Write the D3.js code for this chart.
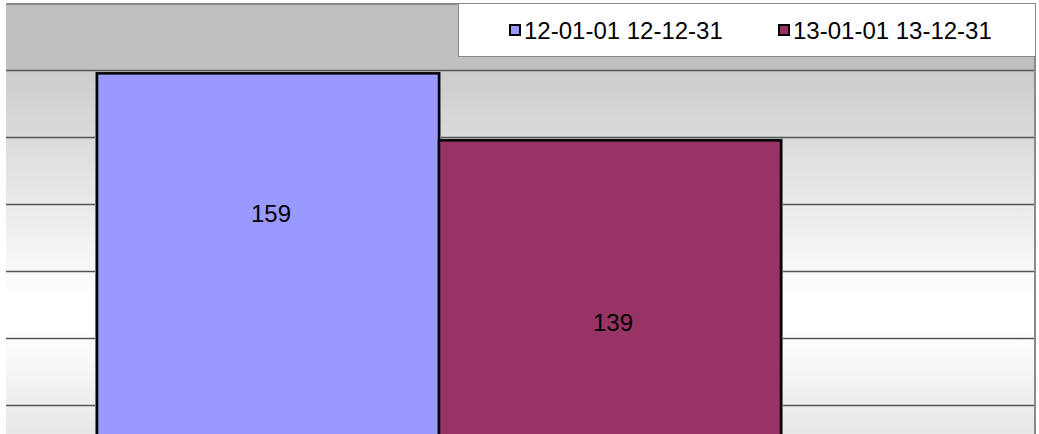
<!DOCTYPE html>
<html>
<head>
<meta charset="utf-8">
<script src="https://cdn.jsdelivr.net/npm/d3@7"></script>
<style>
  html, body { margin: 0; padding: 0; background: #ffffff; overflow: hidden; }
  svg { display: block; font-family: Arial, "Liberation Sans", sans-serif; }
</style>
</head>
<body>
<svg id="chart" width="1039" height="434"></svg>
<script>
// Series: one bar per period
const seriesNames = ["12-01-01 12-12-31", "13-01-01 13-12-31"];
const seriesValues = [159, 139];
const seriesColors = ["#9999ff", "#993366"];
// Value-axis gridlines
const gridTicks = [0, 20, 40, 60, 80, 100, 120, 140, 160];
// Where each data label sits, in value units
const labelAt = [114.5, 82];

const W = 1039, H = 434;
const chart = { left: 6, top: 3, right: 1036 };
const plot = { left: 6, top: 70, right: 1034, bottom: 606 };

const svg = d3.select("#chart");
const defs = svg.append("defs");

const y = d3.scaleLinear().domain([0, 160]).range([plot.bottom, plot.top]);
const x = d3.scaleBand().domain(seriesNames).range([97, 781]).padding(0);

// Chart area background
svg.append("rect")
  .attr("x", chart.left).attr("y", chart.top)
  .attr("width", chart.right - chart.left).attr("height", H - chart.top)
  .attr("fill", "#c0c0c0");

// Plot area: grey → white → grey vertical gradient
const grad = defs.append("linearGradient")
  .attr("id", "plotBg").attr("gradientUnits", "userSpaceOnUse")
  .attr("x1", 0).attr("x2", 0).attr("y1", plot.top).attr("y2", plot.bottom);
const span = plot.bottom - plot.top;
[[plot.top, "#cccccc"], [300, "#ffffff"], [330, "#ffffff"], [434, "#e7e7e7"], [plot.bottom, "#c8c8c8"]]
  .forEach(([py, c]) => grad.append("stop").attr("offset", (py - plot.top) / span).attr("stop-color", c));

svg.append("rect")
  .attr("x", plot.left).attr("y", plot.top)
  .attr("width", plot.right - plot.left).attr("height", span)
  .attr("fill", "url(#plotBg)");

// Horizontal gridlines from the value scale
svg.append("g").selectAll("line")
  .data(gridTicks)
  .join("line")
  .attr("x1", plot.left).attr("x2", plot.right)
  .attr("y1", d => Math.round(y(d)) + 0.5).attr("y2", d => Math.round(y(d)) + 0.5)
  .attr("stroke", "#555555").attr("stroke-width", 1.5);

// Chart border (top and right)
svg.append("line")
  .attr("x1", chart.left).attr("x2", chart.right)
  .attr("y1", chart.top + 1).attr("y2", chart.top + 1)
  .attr("stroke", "#888888").attr("stroke-width", 2);
svg.append("line")
  .attr("x1", chart.right - 1).attr("x2", chart.right - 1)
  .attr("y1", chart.top).attr("y2", H)
  .attr("stroke", "#8a8a8a").attr("stroke-width", 2);

// Bars
const bars = svg.append("g");
const barData = seriesNames.map((s, i) => ({ name: s, value: seriesValues[i], color: seriesColors[i], label: labelAt[i] }));
bars.selectAll("rect.halo")
  .data(barData)
  .join("rect")
  .attr("class", "halo")
  .attr("x", d => x(d.name)).attr("y", d => y(d.value))
  .attr("width", x.bandwidth()).attr("height", d => y(0) - y(d.value))
  .attr("fill", "none").attr("stroke", "#9a9a9a").attr("stroke-width", 4);
bars.selectAll("rect.bar")
  .data(barData)
  .join("rect")
  .attr("class", "bar")
  .attr("x", d => x(d.name)).attr("y", d => y(d.value))
  .attr("width", x.bandwidth()).attr("height", d => y(0) - y(d.value))
  .attr("fill", d => d.color).attr("stroke", "#000000").attr("stroke-width", 2.5);

// Data labels
svg.append("g").selectAll("text")
  .data(barData)
  .join("text")
  .attr("x", d => x(d.name) + x.bandwidth() / 2 + 3)
  .attr("y", d => y(d.label))
  .attr("text-anchor", "middle")
  .attr("font-size", 24)
  .attr("fill", "#000000")
  .text(d => d3.format("d")(d.value));

// Legend
const legend = svg.append("g");
legend.append("rect")
  .attr("x", 458.5).attr("y", 3.5)
  .attr("width", chart.right - 459).attr("height", 53)
  .attr("fill", "#ffffff").attr("stroke", "#888888").attr("stroke-width", 1);
const legendX = [509, 778];
const items = legend.selectAll("g.item")
  .data(barData)
  .join("g")
  .attr("class", "item")
  .attr("transform", (d, i) => `translate(${legendX[i]},0)`);
items.append("rect")
  .attr("x", 1).attr("y", 25)
  .attr("width", 10).attr("height", 10)
  .attr("fill", d => d.color).attr("stroke", "#000000").attr("stroke-width", 2);
items.append("text")
  .attr("x", 15).attr("y", 39)
  .attr("font-size", 24)
  .attr("fill", "#000000")
  .text(d => d.name);
</script>
</body>
</html>
